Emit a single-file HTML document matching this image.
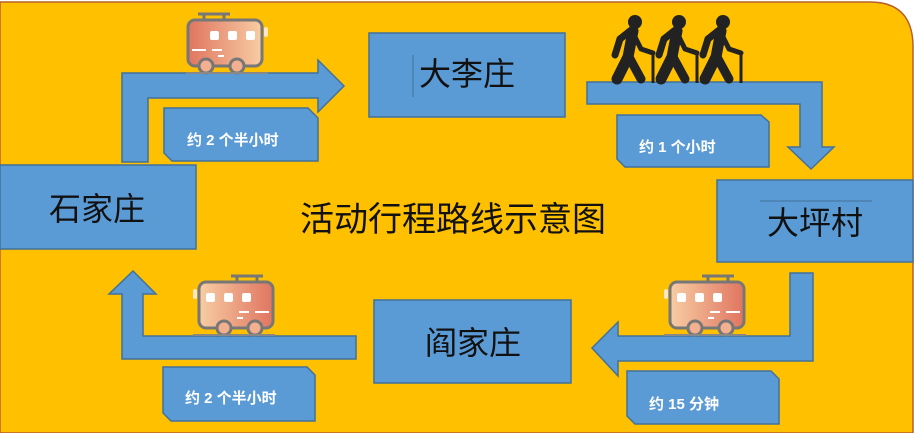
<!DOCTYPE html>
<html><head><meta charset="utf-8"><style>
html,body{margin:0;padding:0;background:#fff;width:914px;height:433px;overflow:hidden;}
svg{display:block;}
text{font-family:"Liberation Sans","Noto Sans CJK SC",sans-serif;}
</style></head><body>
<svg width="914" height="433" viewBox="0 0 914 433" xmlns="http://www.w3.org/2000/svg">
<defs>
<linearGradient id="bg" x1="0" x2="1" y1="0" y2="0"><stop offset="0" stop-color="#E07560"/><stop offset="1" stop-color="#F7CDA3"/></linearGradient>
<g id="bus">
<line x1="12" y1="2" x2="44" y2="2" stroke="#777" stroke-width="3"/>
<line x1="18" y1="2" x2="18" y2="8" stroke="#777" stroke-width="3"/>
<line x1="38" y1="2" x2="38" y2="8" stroke="#777" stroke-width="3"/>
<rect x="2" y="8" width="74" height="46" rx="7" fill="url(#bg)" stroke="#777" stroke-width="3"/>
<rect x="78" y="15" width="4" height="10" rx="2" fill="#FCE7C2"/>
<rect x="24" y="19" width="9" height="9" rx="2" fill="#fff"/>
<rect x="42" y="19" width="9" height="9" rx="2" fill="#fff"/>
<rect x="60" y="19" width="9" height="9" rx="2" fill="#fff"/>
<line x1="6" y1="38" x2="20" y2="38" stroke="#fff" stroke-width="2"/>
<line x1="26" y1="38" x2="36" y2="38" stroke="#fff" stroke-width="2"/>
<line x1="32" y1="44" x2="38" y2="44" stroke="#fff" stroke-width="2"/>
<circle cx="20" cy="54" r="7" fill="#F3B090" stroke="#777" stroke-width="3"/>
<circle cx="51" cy="54" r="7" fill="#F3B090" stroke="#777" stroke-width="3"/>
<line x1="0" y1="61" x2="82" y2="61" stroke="#888" stroke-width="2"/>
</g>
<g id="walker" fill="#222" stroke="#222">
<circle cx="24" cy="7" r="7" stroke="none"/>
<path d="M19 16 L9 24 L4 40" stroke-width="7" fill="none" stroke-linecap="round"/>
<path d="M22 16 L17 42 L6 64" stroke-width="11" fill="none" stroke-linecap="round"/>
<path d="M18 42 L30 64" stroke-width="9" fill="none" stroke-linecap="round"/>
<path d="M23 20 L30 34 L42 38" stroke-width="5" fill="none" stroke-linecap="round"/>
<line x1="42" y1="36" x2="42" y2="68" stroke-width="3"/>
</g>
</defs>
<rect x="0" y="0" width="914" height="433" fill="#fff"/>
<path d="M0 2 H870 Q912 2 913 45 V433 H0 Z" fill="#FFC000" stroke="#B8602A" stroke-width="1.5"/>

<g fill="#5B9BD5" stroke="#41719C" stroke-width="1.5">
<path d="M122 162 L122 73 L318 73 L318 60 L344 86 L318 112 L318 98 L148 98 L148 162 Z"/>
<path d="M164 108 L308 108 L318 118 L318 161 L172 161 L164 153 Z"/>
<rect x="369" y="33" width="196" height="84"/>
<path d="M587 82 L822 82 L822 147 L834 147 L811 169 L788 147 L800 147 L800 104 L587 104 Z"/>
<path d="M617 115 L761 115 L769 122 L769 167 L625 167 L617 159 Z"/>
<rect x="717" y="180" width="196" height="82"/>
<rect x="0" y="165" width="196" height="84"/>
<path d="M790 273 L813 273 L813 361 L618 361 L618 376 L592 348 L618 322 L618 336 L790 336 Z"/>
<path d="M627 371 L771 371 L779 379 L779 424 L635 424 L627 416 Z"/>
<rect x="374" y="300" width="197" height="83"/>
<path d="M356 336 L356 359 L122 359 L122 294 L109 294 L133 271 L156 294 L143 294 L143 336 Z"/>
<path d="M163 367 L307 367 L315 375 L315 421 L171 421 L163 413 Z"/>
</g>

<line x1="413" y1="55" x2="413" y2="97" stroke="#41719C" stroke-width="1"/>
<line x1="760" y1="201" x2="872" y2="201" stroke="#41719C" stroke-width="1"/>

<g font-size="32" fill="#111" text-anchor="middle">
<text x="467" y="85">大李庄</text>
<text x="815" y="234">大坪村</text>
<text x="97" y="220">石家庄</text>
<text x="473" y="354">阎家庄</text>
</g>
<text x="453" y="231" font-size="34" fill="#111" text-anchor="middle">活动行程路线示意图</text>

<g font-size="15" font-weight="bold" fill="#fff">
<text x="187" y="145">约 2 个半小时</text>
<text x="639" y="152">约 1 个小时</text>
<text x="185" y="403">约 2 个半小时</text>
<text x="649" y="409">约 15 分钟</text>
</g>

<use href="#bus" transform="translate(186,12)"/>
<use href="#bus" transform="translate(275,274) scale(-1,1)"/>
<use href="#bus" transform="translate(746,274) scale(-1,1)"/>

<use href="#walker" transform="translate(611,15)"/>
<use href="#walker" transform="translate(655,15)"/>
<use href="#walker" transform="translate(699,15)"/>
</svg>
</body></html>
